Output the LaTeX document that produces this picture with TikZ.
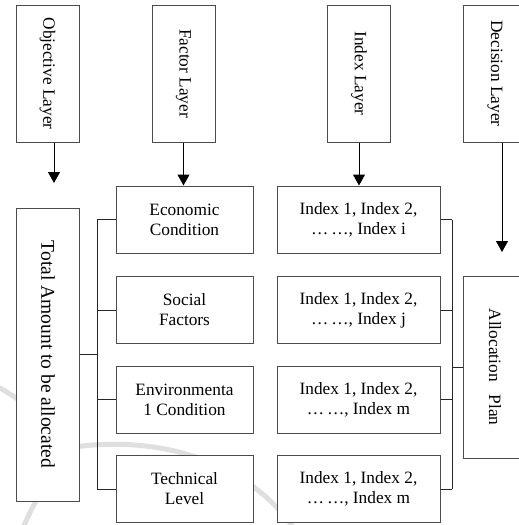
\documentclass[tikz,border=0pt]{standalone}
\usepackage{fontspec}
\setmainfont{Liberation Serif}
\usetikzlibrary{arrows.meta}
\tikzset{
  box/.style={draw=black!70, line width=1pt, fill=white, align=center, inner sep=0pt,
    font=\fontsize{17.3}{20}\selectfont},
  layer/.style={box, rotate=-90, minimum width=137pt, minimum height=63pt},
  factor/.style={box, minimum width=137pt, minimum height=67pt},
  index/.style={box, minimum width=163pt, minimum height=67pt},
  link/.style={black!85, line width=1pt},
  down/.style={black, line width=1pt, -{Triangle[width=12pt,length=11pt]}},
  wm/.style={gray!25, line width=5pt, line cap=round}
}
\begin{document}
\begin{tikzpicture}[x=1pt,y=-1pt]
\useasboundingbox (0,0) rectangle (519,525);
% watermark strokes
\draw[wm] (0,388) .. controls (30,405) and (55,430) .. (68,448);
\draw[wm] (68,448) .. controls (140,436) and (240,450) .. (295,530);
\draw[wm] (68,448) .. controls (50,475) and (35,500) .. (22,530);
% layer headings
\node[layer] (obj) at (47.5,73.5) {Objective Layer};
\node[layer] (fac) at (183.5,73.5) {Factor Layer};
\node[layer] (idx) at (359,73.5) {Index Layer};
\node[layer] (dec) at (495,73.5) {Decision Layer};
% objective and decision
\node[layer, minimum width=293pt, font=\fontsize{19.5}{22}\selectfont] (total) at (48,354.5) {Total Amount to be allocated};
\node[layer, minimum width=182pt] (plan) at (495,367) {Allocation\ \ \ Plan};
% factors
\node[factor] (f1) at (184.5,219.5) {Economic\\Condition};
\node[factor] (f2) at (184.5,310) {Social\\Factors};
\node[factor] (f3) at (184.5,399.5) {Environmenta\\1 Condition};
\node[factor] (f4) at (184.5,489) {Technical\\Level};
% indices
\node[index] (i1) at (358.5,219.5) {Index 1, Index 2,\\…\,…, Index i};
\node[index] (i2) at (358.5,310) {Index 1, Index 2,\\…\,…, Index j};
\node[index] (i3) at (358.5,399.5) {Index 1, Index 2,\\…\,…, Index m};
\node[index] (i4) at (358.5,489) {Index 1, Index 2,\\…\,…, Index m};
% arrows
\coordinate (objtip) at (54,183);
\coordinate (dectip) at (502,252);
\draw[down] (obj.east -| objtip) -- (objtip);
\draw[down] (fac.east) -- (fac.east |- f1.north);
\draw[down] (idx.east) -- (idx.east |- i1.north);
\draw[down] (dec.east -| dectip) -- (dectip);
% brackets
\coordinate (lbus) at (97,354.5);
\coordinate (rbus) at (452,367);
\draw[link] (total.north) -- (lbus);
\draw[link] (f1.west -| lbus) -- (f4.west -| lbus);
\draw[link] (i1.east -| rbus) -- (i4.east -| rbus);
\draw[link] (rbus) -- (plan.south);
\foreach \i in {1,...,4} {
  \draw[link] (f\i.west) -- (f\i.west -| lbus);
  \draw[link] (i\i.east) -- (i\i.east -| rbus);
}
\end{tikzpicture}
\end{document}
